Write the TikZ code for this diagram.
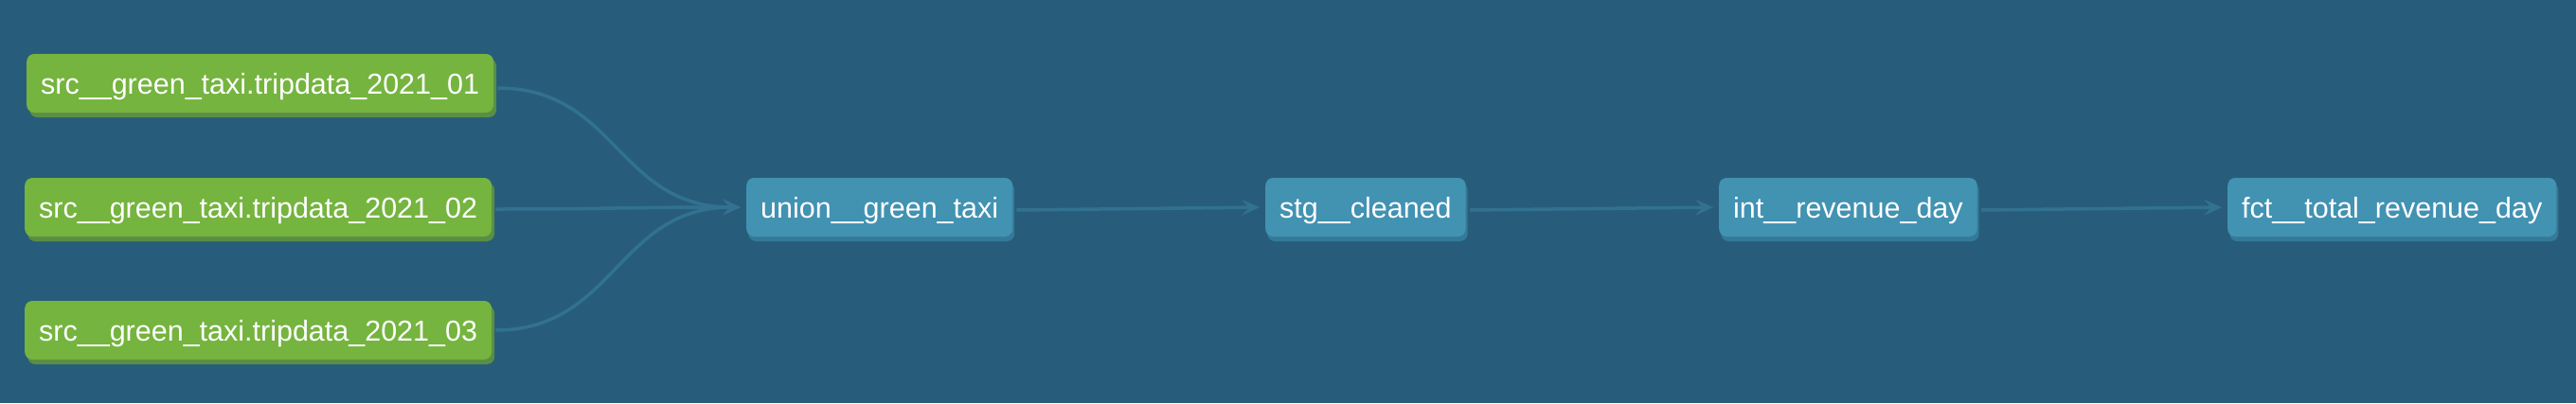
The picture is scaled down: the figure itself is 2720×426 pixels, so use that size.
\documentclass[tikz,border=0pt]{standalone}
\usepackage{fontspec}
\setmainfont{Liberation Sans}
\usetikzlibrary{arrows.meta,shadows}
\definecolor{bgc}{RGB}{39,93,122}
\definecolor{edgec}{RGB}{50,113,143}
\definecolor{srcc}{RGB}{117,180,63}
\definecolor{srcsh}{RGB}{90,142,68}
\definecolor{modc}{RGB}{66,146,178}
\definecolor{modsh}{RGB}{52,122,152}
\tikzset{
  basebox/.style={rounded corners=8pt, inner xsep=15pt, inner ysep=14pt,
    text height=28pt, text depth=6pt, text=white, anchor=west,
    font=\fontsize{30.5}{36}\selectfont},
  srcbox/.style={basebox, fill=srcc,
    drop shadow={shadow xshift=3pt, shadow yshift=-5pt, fill=srcsh, opacity=1}},
  modbox/.style={basebox, fill=modc,
    drop shadow={shadow xshift=2pt, shadow yshift=-5pt, fill=modsh, opacity=1}},
  flow/.style={draw=edgec, line width=3.5pt,
    -{Stealth[length=19pt,width=17pt,inset=8pt]}}
}
\begin{document}
\begin{tikzpicture}[x=1pt,y=-1pt]
\useasboundingbox[fill=bgc] (0,0) rectangle (2720,426);
\node[srcbox] (s1) at (28,88) {src\_\_green\_taxi.tripdata\_2021\_01};
\node[srcbox] (s2) at (26,219) {src\_\_green\_taxi.tripdata\_2021\_02};
\node[srcbox] (s3) at (26,349) {src\_\_green\_taxi.tripdata\_2021\_03};
\node[modbox] (u) at (788,219) {union\_\_green\_taxi};
\node[modbox] (st) at (1336,219) {stg\_\_cleaned};
\node[modbox] (in) at (1815,219) {int\_\_revenue\_day};
\node[modbox] (fc) at (2352,219) {fct\_\_total\_revenue\_day};
\coordinate (uin) at ([xshift=-6pt]u.west);
\draw[flow] ([xshift=4pt,yshift=-5pt]s1.east) .. controls ([xshift=130pt,yshift=-5pt]s1.east) and ([xshift=-130pt]uin) .. (uin);
\draw[flow] ([xshift=4pt,yshift=-2pt]s2.east) .. controls ([xshift=130pt,yshift=-2pt]s2.east) and ([xshift=-130pt]uin) .. (uin);
\draw[flow] ([xshift=4pt]s3.east) .. controls ([xshift=130pt]s3.east) and ([xshift=-130pt]uin) .. (uin);
\draw[flow, shorten >=6pt] ([xshift=4pt,yshift=-3pt]u.east) -- (st.west);
\draw[flow, shorten >=6pt] ([xshift=4pt,yshift=-3pt]st.east) -- (in.west);
\draw[flow, shorten >=6pt] ([xshift=4pt,yshift=-3pt]in.east) -- (fc.west);
\end{tikzpicture}
\end{document}
